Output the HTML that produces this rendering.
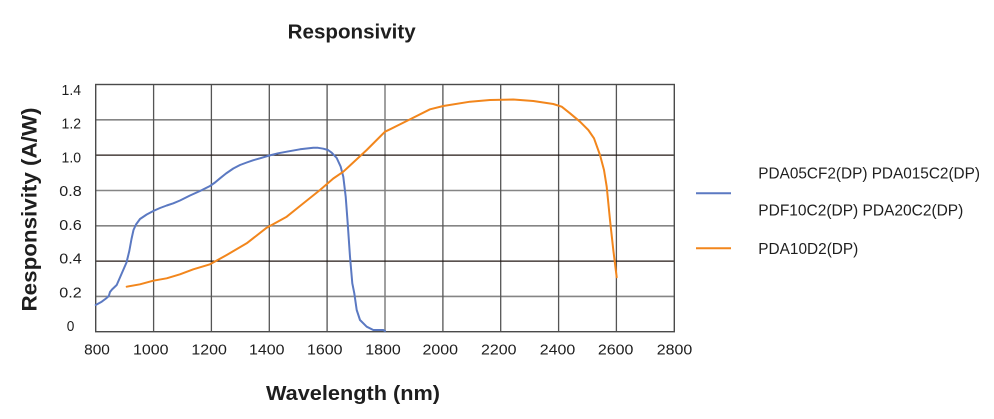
<!DOCTYPE html>
<html>
<head>
<meta charset="utf-8">
<style>
  html,body{margin:0;padding:0;background:#fff;}
  svg{display:block;}
  text{font-family:"Liberation Sans", sans-serif; fill:#1e1e1e;}
</style>
</head>
<body>
<svg width="994" height="419" viewBox="0 0 994 419" xmlns="http://www.w3.org/2000/svg">
  <rect x="0" y="0" width="994" height="419" fill="#fff"/>

  <!-- Title -->
  <text x="351.7" y="38.3" font-size="20.5" font-weight="bold" text-anchor="middle" textLength="128" lengthAdjust="spacingAndGlyphs">Responsivity</text>

  <!-- grid: horizontal gray lines -->
  <g stroke="#858585" stroke-width="1.6">
    <line x1="95.7" y1="119.8" x2="674.3" y2="119.8"/>
    <line x1="95.7" y1="190.5" x2="674.3" y2="190.5"/>
    <line x1="95.7" y1="225.8" x2="674.3" y2="225.8"/>
    <line x1="95.7" y1="296.4" x2="674.3" y2="296.4"/>
  </g>
  <!-- vertical lines -->
  <g stroke="#555" stroke-width="1.3">
    <line x1="153.6" y1="84.5" x2="153.6" y2="331.7"/>
    <line x1="211.4" y1="84.5" x2="211.4" y2="331.7"/>
    <line x1="269.3" y1="84.5" x2="269.3" y2="331.7"/>
    <line x1="327.1" y1="84.5" x2="327.1" y2="331.7"/>
    <line x1="385.0" y1="84.5" x2="385.0" y2="331.7" stroke="#808080" stroke-width="1.5"/>
    <line x1="442.9" y1="84.5" x2="442.9" y2="331.7"/>
    <line x1="500.7" y1="84.5" x2="500.7" y2="331.7"/>
    <line x1="558.6" y1="84.5" x2="558.6" y2="331.7"/>
    <line x1="616.4" y1="84.5" x2="616.4" y2="331.7"/>
  </g>
  <!-- dark horizontals -->
  <g stroke="#231815" stroke-width="1.3">
    <line x1="95.7" y1="155.1" x2="674.3" y2="155.1"/>
    <line x1="95.7" y1="261.1" x2="674.3" y2="261.1"/>
  </g>
  <!-- border -->
  <rect x="95.7" y="84.5" width="578.6" height="247.2" fill="none" stroke="#4a4a4a" stroke-width="1.4"/>

  <!-- Blue series -->
  <polyline fill="none" stroke="#5b79c2" stroke-width="2" stroke-linejoin="round" stroke-linecap="round"
    points="95.7,305 101.7,301.7 106,298.5 108.8,296 110,292 112,289.5 116.7,285 121.7,273.5 126.5,262.5 129.3,251 131.5,239 133.5,230 136,224.5 140,219 146.7,214.5 153.3,211 160,208 166.7,205.5 173.3,203.3 180,200.5 190,195.5 200,191 210,186 215,182.5 220,178.3 226,173.5 233.3,168.5 240,165 246.7,162.5 253,160.3 260,158.3 269.3,155.5 278,153.3 286.7,151.7 300,149.3 313.3,147.7 318,147.8 323.3,148.7 328,150 331.7,152.7 336.7,158 340.7,166.7 343.3,176.7 345.7,196.7 347.7,223.3 350,256.7 352.3,283.3 354.3,293.3 356.7,310 360,320 366.7,326.7 373.3,330 383.3,330 385,331"/>

  <!-- Orange series -->
  <polyline fill="none" stroke="#f2861c" stroke-width="2" stroke-linejoin="round" stroke-linecap="round"
    points="126.7,286.7 140,284.3 153.3,280.7 166.7,278.3 180,274.3 193.3,269.3 210,264.3 226.7,255 246.7,243.3 266.7,227.7 286.7,216.7 300,206 320,190 333.3,178.5 343.3,171.7 350,165.5 366.7,150 385,131.7 390,129.3 406.7,121 430,109.3 443.3,106 470,101.7 490,100 513.3,99.5 533.3,101 553.3,104 561.7,106.7 570,113.3 580,121.7 588.3,130 594,138.3 600,155 604,170 606.7,186.7 610,220 613.3,250 616.7,277.3"/>

  <!-- Y tick labels -->
  <g font-size="14.5" text-anchor="middle">
    <text x="71.3" y="95" textLength="19.5" lengthAdjust="spacingAndGlyphs">1.4</text>
    <text x="71.3" y="128.7" textLength="19.5" lengthAdjust="spacingAndGlyphs">1.2</text>
    <text x="71.3" y="162.4" textLength="19.5" lengthAdjust="spacingAndGlyphs">1.0</text>
    <text x="70.5" y="196.1" textLength="22.4" lengthAdjust="spacingAndGlyphs">0.8</text>
    <text x="70.5" y="229.8" textLength="22.4" lengthAdjust="spacingAndGlyphs">0.6</text>
    <text x="70.5" y="263.6" textLength="22.4" lengthAdjust="spacingAndGlyphs">0.4</text>
    <text x="70.5" y="297.3" textLength="22.4" lengthAdjust="spacingAndGlyphs">0.2</text>
    <text x="70.5" y="331" textLength="7.6" lengthAdjust="spacingAndGlyphs">0</text>
  </g>

  <!-- X tick labels -->
  <g font-size="14.5" text-anchor="middle">
    <text x="97" y="354.3" textLength="25.7" lengthAdjust="spacingAndGlyphs">800</text>
    <text x="150.8" y="354.3" textLength="35.5" lengthAdjust="spacingAndGlyphs">1000</text>
    <text x="209.2" y="354.3" textLength="35.5" lengthAdjust="spacingAndGlyphs">1200</text>
    <text x="266.8" y="354.3" textLength="35.5" lengthAdjust="spacingAndGlyphs">1400</text>
    <text x="324.8" y="354.3" textLength="35.5" lengthAdjust="spacingAndGlyphs">1600</text>
    <text x="383" y="354.3" textLength="35.5" lengthAdjust="spacingAndGlyphs">1800</text>
    <text x="440.3" y="354.3" textLength="35.5" lengthAdjust="spacingAndGlyphs">2000</text>
    <text x="498.8" y="354.3" textLength="35.5" lengthAdjust="spacingAndGlyphs">2200</text>
    <text x="557.5" y="354.3" textLength="35.5" lengthAdjust="spacingAndGlyphs">2400</text>
    <text x="615.7" y="354.3" textLength="35.5" lengthAdjust="spacingAndGlyphs">2600</text>
    <text x="674.5" y="354.3" textLength="35.5" lengthAdjust="spacingAndGlyphs">2800</text>
  </g>

  <!-- X axis title -->
  <text x="353" y="400" font-size="20.5" font-weight="bold" text-anchor="middle" textLength="174" lengthAdjust="spacingAndGlyphs">Wavelength (nm)</text>

  <!-- Y axis title -->
  <text transform="translate(36.5,209.5) rotate(-90)" x="0" y="0" font-size="21" font-weight="bold" text-anchor="middle" textLength="204" lengthAdjust="spacingAndGlyphs">Responsivity (A/W)</text>

  <!-- Legend -->
  <line x1="696" y1="193.3" x2="731" y2="193.3" stroke="#5b79c2" stroke-width="2"/>
  <line x1="696" y1="248.3" x2="731" y2="248.3" stroke="#f2861c" stroke-width="2"/>
  <g font-size="15.5">
    <text x="758.3" y="178.3" textLength="221.7" lengthAdjust="spacingAndGlyphs">PDA05CF2(DP) PDA015C2(DP)</text>
    <text x="758.3" y="215.5" textLength="205" lengthAdjust="spacingAndGlyphs">PDF10C2(DP) PDA20C2(DP)</text>
    <text x="758.3" y="253.8" textLength="100" lengthAdjust="spacingAndGlyphs">PDA10D2(DP)</text>
  </g>
</svg>
</body>
</html>
